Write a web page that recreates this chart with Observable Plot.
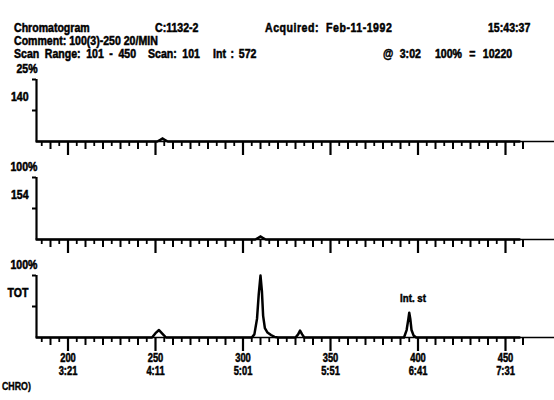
<!DOCTYPE html>
<html><head><meta charset="utf-8">
<script src="https://cdn.jsdelivr.net/npm/d3@7"></script>
<script src="https://cdn.jsdelivr.net/npm/@observablehq/plot@0.6"></script>
<style>
body{margin:0;background:#fff;width:554px;height:400px;overflow:hidden;font-family:"Liberation Sans",Arial,sans-serif;font-weight:bold;color:#000}
#header{position:relative;height:50px;font-size:12px;}
#header span{position:absolute;white-space:pre;line-height:12px;display:inline-block;transform:scaleX(0.88);transform-origin:0 0;-webkit-text-stroke:0.5px #000}
#caption{font-size:11px;padding-left:2px;line-height:12px}
#caption span{display:inline-block;transform:scaleX(0.8);transform-origin:0 0;-webkit-text-stroke:0.4px #000}
#chart svg{display:block}
</style></head><body>
<div id="header">
<span style="left:14px;top:22px">Chromatogram</span>
<span style="left:155px;top:22px">C:1132-2</span>
<span style="left:265px;top:22px;word-spacing:4px;letter-spacing:0.6px">Acquired: Feb-11-1992</span>
<span style="left:488px;top:22px">15:43:37</span>
<span style="left:14px;top:35px">Comment: 100(3)-250 20/MIN</span>
<span style="left:14px;top:48px;word-spacing:3px">Scan Range: 101 - 450</span>
<span style="left:148px;top:48px;word-spacing:3px">Scan: 101</span>
<span style="left:213px;top:48px;word-spacing:2px">Int : 572</span>
<span style="left:383px;top:48px;word-spacing:4px">@ 3:02</span>
<span style="left:435px;top:48px;word-spacing:5px">100% = 10220</span>
</div>
<div id="chart"></div>
<div id="caption"><span>CHRO)</span></div>
<script>
// panels
const panels = ["140", "154", "TOT"];
const panelScale = ["25%", "100%", "100%"];
// displayed scan window
const scanStart = 182, scanEnd = 458, axisEnd = 478;
// x-axis ticks
const majorTicks = [200, 250, 300, 350, 400, 450];
const timeLabels = ["3:21", "4:11", "5:01", "5:51", "6:41", "7:31"];
// traces (relative intensity in each panel)
const scans140 = [182, 251, 253, 254, 255, 257, 458];
const values140 = [0, 0, 0.03, 0.05, 0.03, 0, 0];
const scans154 = [182, 307, 309, 310, 311, 313, 458];
const values154 = [0, 0, 0.03, 0.05, 0.03, 0, 0];
const scansTOT = [182, 248, 250, 252, 254, 256, 305, 306.5, 308, 309, 310, 310.8, 311.5, 312.5, 314, 316, 318, 320, 330, 331.5, 332.6, 333.8, 335, 392, 393.5, 394.5, 395, 395.6, 396.3, 397.5, 399, 458];
const valuesTOT = [0, 0, 0.07, 0.12, 0.06, 0, 0, 0.05, 0.3, 0.7, 1.0, 0.75, 0.35, 0.15, 0.08, 0.04, 0.01, 0, 0, 0.05, 0.11, 0.05, 0, 0, 0.12, 0.3, 0.4, 0.3, 0.12, 0.03, 0, 0];
// annotation
const annotation = {panel: "TOT", scan: 396, value: 0.63, text: "Int. st"};

const traces = [
  ...scans140.map((s, i) => ({panel: "140", scan: s, value: values140[i]})),
  ...scans154.map((s, i) => ({panel: "154", scan: s, value: values154[i]})),
  ...scansTOT.map((s, i) => ({panel: "TOT", scan: s, value: valuesTOT[i]}))
];
const panelRows = panels.map((p, i) => ({panel: p, scale: panelScale[i]}));
const minorTicks = d3.range(185, 461, 5).filter(t => t % 50 !== 0 && t % 10 !== 0);
const midTicks = d3.range(190, 461, 10).filter(t => t % 50 !== 0);
const tickMap = new Map(majorTicks.map((t, i) => [t, `${t}\n${timeLabels[i]}`]));

const chart = Plot.plot({
  width: 554,
  height: 330,
  marginLeft: 36,
  marginRight: 0,
  marginTop: 28,
  marginBottom: 43,
  facet: {marginTop: 0, marginBottom: 0, marginLeft: 0, marginRight: 0},
  style: {fontFamily: '"Liberation Sans",Arial,sans-serif', fontWeight: "bold", fontSize: "11px", color: "#000", background: "#fff"},
  x: {domain: [scanStart, axisEnd], axis: null},
  y: {domain: [0, 1], axis: null},
  fy: {domain: panels, axis: null, paddingInner: 0.3706, paddingOuter: 0},
  marks: [
    Plot.ruleY([0], {stroke: "#000", strokeWidth: 1.5}),
    Plot.axisX({ticks: minorTicks, tickSize: 5, strokeWidth: 1.8, fill: "none", facetAnchor: null, label: null}),
    Plot.axisX({ticks: midTicks, tickSize: 8, strokeWidth: 2, fill: "none", facetAnchor: null, label: null}),
    Plot.axisX({ticks: majorTicks, tickSize: 14, strokeWidth: 2.2, fill: "none", facetAnchor: null, label: null}),
    Plot.axisX({ticks: majorTicks, tickSize: 0, tickPadding: 16, tickFormat: d => tickMap.get(d), lineHeight: 1.05, fontSize: 12, facetAnchor: "bottom", label: null, className: "ticklab"}),
    Plot.ruleX([scanStart], {y1: 0, y2: 1, stroke: "#000", strokeWidth: 2.2}),
    Plot.axisY({ticks: [0.5, 1], tickSize: 4, strokeWidth: 2, fill: "none", label: null}),
    Plot.line(traces, {x: "scan", y: "value", fy: "panel", stroke: "#000", strokeWidth: 2.5, curve: "linear"}),
    Plot.text(panelRows, {fy: "panel", x: scanStart, y: 1, text: "scale", textAnchor: "end", dx: 1, dy: -10, fontSize: 12}),
    Plot.text(panelRows, {fy: "panel", x: scanStart, y: 0.72, text: "panel", textAnchor: "end", dx: -8, fontSize: 12}),
    Plot.text([annotation], {fy: "panel", x: "scan", y: "value", text: "text", fontSize: 11, dx: 2})
  ]
});
document.getElementById("chart").appendChild(chart);
// heavier, narrower glyphs like the original instrument font
chart.querySelectorAll("text").forEach(t => {
  t.style.stroke = "#000";
  t.style.strokeWidth = "0.5px";
  const isTick = t.closest(".ticklab") !== null;
  const k = isTick ? 0.78 : 0.88;
  const spans = t.querySelectorAll("tspan");
  const targets = spans.length ? Array.from(spans) : [t];
  targets.forEach(el => {
    const len = el.getComputedTextLength();
    if (len > 0) {
      el.setAttribute("textLength", (len * k).toFixed(1));
      el.setAttribute("lengthAdjust", "spacingAndGlyphs");
    }
  });
});
</script>
</body></html>
